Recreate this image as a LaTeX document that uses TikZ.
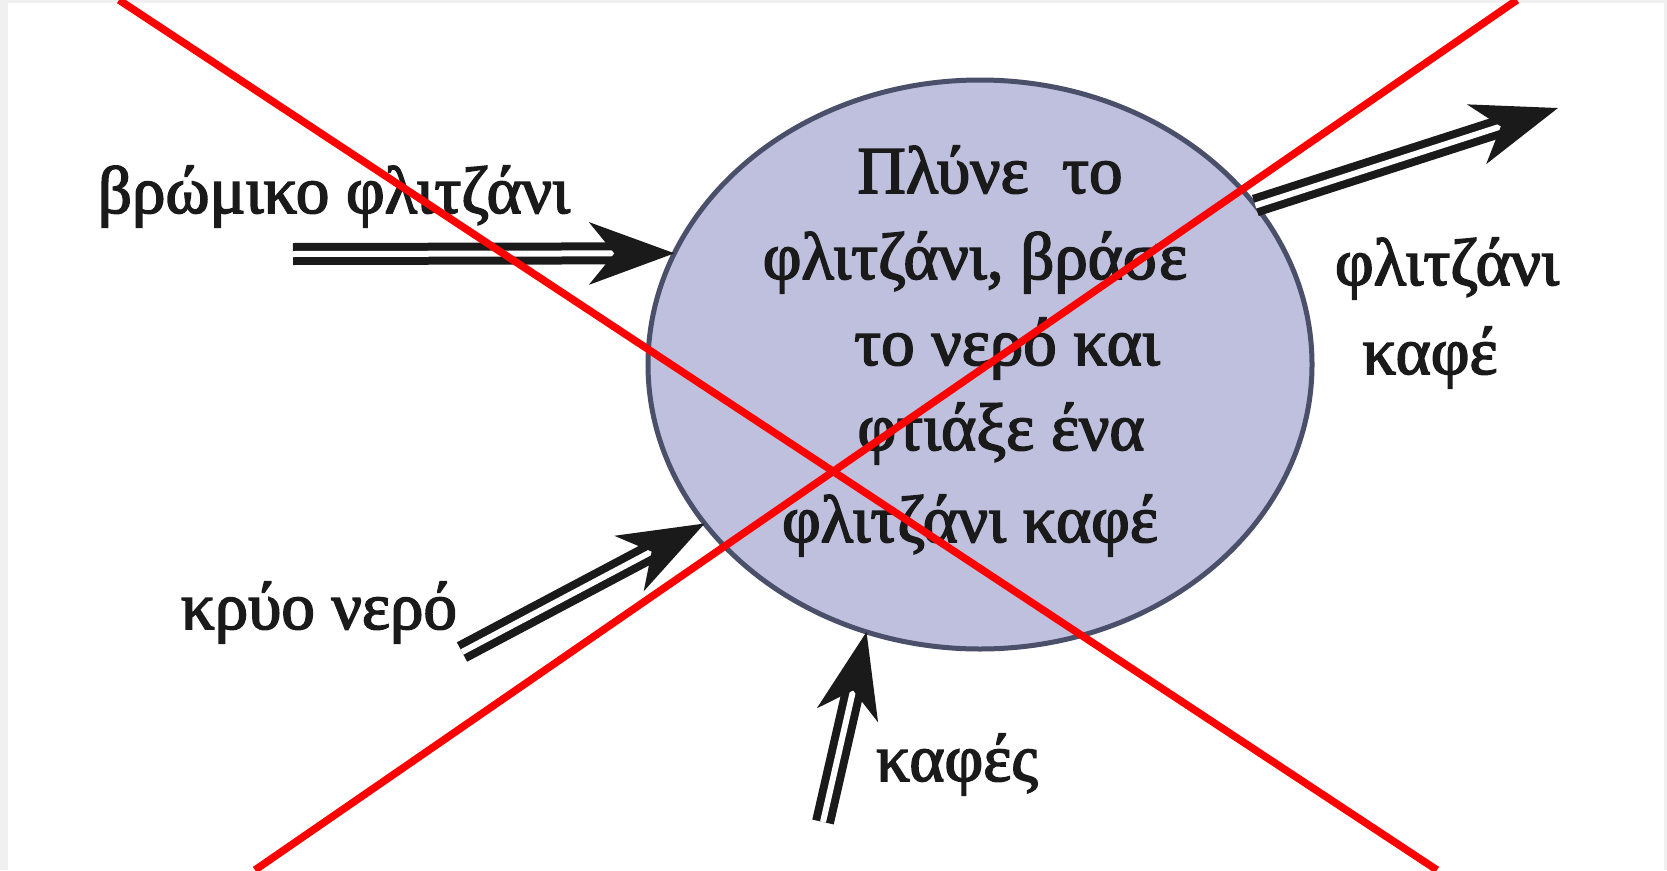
\documentclass[tikz,border=0pt]{standalone}
\usepackage{fontspec}
\setmainfont{Liberation Serif}
\newfontfamily\lblfont{Liberation Serif}[FakeBold=2.4]
\usetikzlibrary{shapes.geometric,arrows.meta}
\definecolor{bgframe}{RGB}{240,240,240}
\definecolor{ellfill}{RGB}{191,192,221}
\definecolor{elldraw}{RGB}{74,79,106}
\definecolor{arrowblack}{RGB}{26,26,26}
\definecolor{crossred}{RGB}{255,0,0}
\begin{document}
\begin{tikzpicture}[x=1pt,y=-1pt,
  lbl/.style={inner sep=0pt, anchor=base, text=arrowblack, font=\lblfont\fontsize{67}{72}\selectfont},
  dbl/.style={draw=arrowblack, double=white, double distance=6pt, line width=8pt,
    -{Stealth[length=85pt,width=62pt,inset=25pt]}},
  crossline/.style={draw=crossred, line width=7.5pt}]
\useasboundingbox (0,0) rectangle (1667,870);
\fill[bgframe] (0,0) rectangle (1667,870);
\fill[white] (8,3) rectangle (1664,870);

\node[ellipse, draw=elldraw, fill=ellfill, line width=5pt, minimum width=664pt,
  minimum height=569pt, inner sep=0pt, outer sep=0pt] (proc) at (980,364.5) {};

\node[lbl] (p1) at (990,193) {Πλύνε\ \ το};
\node[lbl] (p2) at (975,279) {φλιτζάνι, βράσε};
\node[lbl] (p3) at (1007,365) {το νερό και};
\node[lbl] (p4) at (1001,450) {φτιάξε ένα};
\node[lbl] (p5) at (970,542) {φλιτζάνι καφέ};

\node[lbl] (lin1) at (334,213) {βρώμικο φλιτζάνι};
\node[lbl] (lin2) at (319,629) {κρύο νερό};
\node[lbl] (lin3) at (957,781) {καφές};
\node[lbl] (lout1) at (1447,285) {φλιτζάνι};
\node[lbl] (lout2) at (1430,374) {καφέ};

\coordinate (s1) at (293,254);
\coordinate (s2) at (462,652);
\coordinate (s3) at (823,822);
\coordinate (e1) at (1558,108);

\draw[dbl] (s1) -- (proc.160.4);
\draw[dbl] (s2) -- (proc.210);
\draw[dbl] (s3) -- (proc.247.9);
\draw[dbl] (proc.30.9) -- (e1);

\coordinate (c1a) at (119,0);
\coordinate (c1b) at (1437,870);
\coordinate (c2a) at (1517,0);
\coordinate (c2b) at (255,870);
\draw[crossline] (c1a) -- (c1b);
\draw[crossline] (c2a) -- (c2b);
\end{tikzpicture}
\end{document}
